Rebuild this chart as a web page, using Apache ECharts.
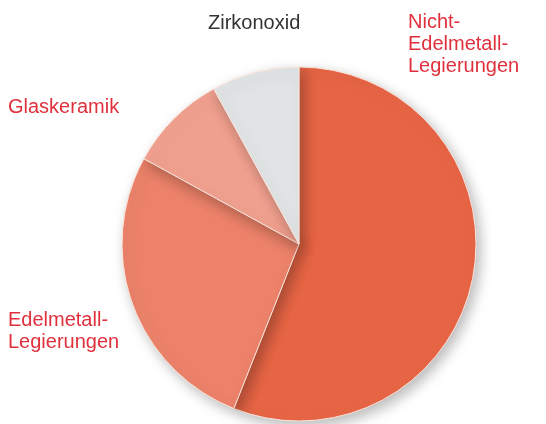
<!DOCTYPE html>
<html>
<head>
<meta charset="utf-8">
<script src="https://cdn.jsdelivr.net/npm/echarts@6/dist/echarts.min.js"></script>
<style>
  html, body { margin: 0; padding: 0; background: #fff; }
  #chart { width: 546px; height: 424px; }
</style>
</head>
<body>
<div id="chart"></div>
<script>
// Anteile in Prozent, im Uhrzeigersinn ab 12 Uhr
var names = ['Nicht-\nEdelmetall-\nLegierungen', 'Edelmetall-\nLegierungen', 'Glaskeramik', 'Zirkonoxid'];
var values = [56, 27, 9, 8];
var colors = ['#e66545', '#ec826a', '#f0a08e', '#e0e4e4'];
var labelColors = ['#e0303c', '#e0303c', '#e0303c', '#333333'];

// Position der Beschriftungen (Pixel)
var labelPos = [[408, 11], [8, 309], [8, 96], [208, 12]];

var chart = echarts.init(document.getElementById('chart'));

var data = [];
for (var i = 0; i < values.length; i++) {
    data.push({
        name: names[i],
        value: values[i],
        itemStyle: { color: colors[i] },
        label: { color: labelColors[i] }
    });
}

var option = {
    animation: false,
    series: [{
        type: 'pie',
        center: [299, 244],
        radius: [0, 177],
        startAngle: 90,
        clockwise: true,
        data: data,
        itemStyle: {
            borderColor: '#fbe3da',
            borderWidth: 1,
            shadowBlur: 14,
            shadowOffsetX: 4,
            shadowOffsetY: 5,
            shadowColor: 'rgba(0,0,0,0.28)'
        },
        emphasis: { disabled: true },
        labelLine: { show: false },
        label: {
            show: true,
            position: 'outside',
            alignTo: 'none',
            overflow: 'none',
            fontFamily: 'Liberation Sans, Arial, sans-serif',
            fontSize: 20,
            lineHeight: 22,
            formatter: '{b}'
        },
        labelLayout: function (params) {
            var p = labelPos[params.dataIndex];
            return { x: p[0], y: p[1], align: 'left', verticalAlign: 'top', hideOverlap: false };
        }
    }]
};

chart.setOption(option);
</script>
</body>
</html>
